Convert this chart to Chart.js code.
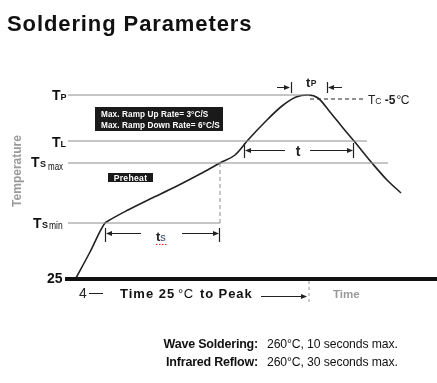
<!DOCTYPE html>
<html>
<head>
<meta charset="utf-8">
<script src="https://cdn.jsdelivr.net/npm/chart.js@4/dist/chart.umd.min.js"></script>
<style>
  body { margin: 0; background: #fff; }
  canvas { display: block; }
</style>
</head>
<body>
<canvas id="chart" width="437" height="383"></canvas>
<script>
// profile curve (time and temperature in schematic units)
const timeVals = [0, 14, 29, 32, 52, 74, 99, 124, 144, 159, 172, 189, 206, 220, 232, 242, 254, 267, 278, 296, 311, 325];
const tempVals = [0, 26, 55, 57, 68, 79, 91, 104, 115, 123, 138, 156, 172, 181, 183, 180, 166, 150, 137, 115, 98, 85];

// reference temperature levels
const levelNames = ["TP", "TL", "TS max", "TS min", "25"];
const levelVals = [183, 137, 115, 55, 0];
const levelEnds = [234, 291, 312, 144, 361];

const rampNotes = ["Max. Ramp Up Rate= 3°C/S", "Max. Ramp Down Rate= 6°C/S"];
const specNames = ["Wave Soldering:", "Infrared Reflow:"];
const specVals = ["260°C, 10 seconds max.", "260°C, 30 seconds max."];

const FONT = "'Liberation Sans', Arial, sans-serif";
const KNEE_LO = 2, KNEE_HI = 8; // Ts min / Ts max corners of the curve

const datasets = [];
// gray level lines
for (let i = 0; i < 4; i++) {
  datasets.push({
    data: [{ x: -8, y: levelVals[i] }, { x: levelEnds[i], y: levelVals[i] }],
    borderColor: "#8c8c8c", borderWidth: 1, pointRadius: 0
  });
}
// thick base line at 25
datasets.push({
  data: [{ x: -11, y: levelVals[4] - 1 }, { x: levelEnds[4], y: levelVals[4] - 1 }],
  borderColor: "#111", borderWidth: 4, pointRadius: 0
});
// dashed Tc -5 line
datasets.push({
  data: [{ x: 234, y: 179 }, { x: 288, y: 179 }],
  borderColor: "#222", borderWidth: 1, borderDash: [4, 3], pointRadius: 0
});
// dashed drop from Ts max knee
datasets.push({
  data: [{ x: timeVals[KNEE_HI], y: tempVals[KNEE_HI] }, { x: timeVals[KNEE_HI], y: levelVals[3] }],
  borderColor: "#8c8c8c", borderWidth: 1, borderDash: [4, 3], pointRadius: 0
});
// dashed mark at the peak time on the time axis
datasets.push({
  data: [{ x: 233, y: -3 }, { x: 233, y: -26 }],
  borderColor: "#9a9a9a", borderWidth: 1, borderDash: [3, 3], pointRadius: 0
});
// the profile itself
datasets.push({
  data: timeVals.map((t, i) => ({ x: t, y: tempVals[i] })),
  borderColor: "#222", borderWidth: 1.6, pointRadius: 0,
  cubicInterpolationMode: "monotone"
});

function txt(ctx, s, x, y, font, color, opts) {
  opts = opts || {};
  ctx.save();
  ctx.font = font;
  ctx.fillStyle = color;
  ctx.textBaseline = opts.base || "alphabetic";
  ctx.textAlign = opts.align || "left";
  if (opts.ls) ctx.letterSpacing = opts.ls + "px";
  const sx = opts.sx || 1;
  ctx.translate(x, y);
  ctx.scale(sx, 1);
  ctx.fillText(s, 0, 0);
  const w = ctx.measureText(s).width * sx;
  ctx.restore();
  return w;
}

function arrow(ctx, x1, x2, y) {
  const dir = x2 > x1 ? 1 : -1;
  ctx.save();
  ctx.strokeStyle = "#222";
  ctx.fillStyle = "#222";
  ctx.lineWidth = 1;
  ctx.beginPath();
  ctx.moveTo(x1, y + 0.5);
  ctx.lineTo(x2 - dir * 4, y + 0.5);
  ctx.stroke();
  ctx.beginPath();
  ctx.moveTo(x2, y + 0.5);
  ctx.lineTo(x2 - dir * 6, y - 2);
  ctx.lineTo(x2 - dir * 6, y + 3);
  ctx.closePath();
  ctx.fill();
  ctx.restore();
}

function tick(ctx, x, y1, y2) {
  ctx.save();
  ctx.strokeStyle = "#222";
  ctx.lineWidth = 1.2;
  ctx.beginPath();
  ctx.moveTo(Math.round(x) + 0.5, y1);
  ctx.lineTo(Math.round(x) + 0.5, y2);
  ctx.stroke();
  ctx.restore();
}

const labels = {
  id: "labels",
  afterDraw(chart) {
    const ctx = chart.ctx;
    const xs = chart.scales.x, ys = chart.scales.y;
    const X = v => xs.getPixelForValue(v);
    const Y = v => ys.getPixelForValue(v);

    // title
    txt(ctx, "Soldering Parameters", 7, 31, "bold 22px " + FONT, "#111", { ls: 0.9 });

    // level labels on the left
    const big = "bold 14px " + FONT, sub = "bold 9px " + FONT;
    let w;
    w = txt(ctx, "T", 52, Y(levelVals[0]) + 5, big, "#111");
    txt(ctx, "P", 52 + w, Y(levelVals[0]) + 5, sub, "#111");
    w = txt(ctx, "T", 52, Y(levelVals[1]) + 6, big, "#111");
    txt(ctx, "L", 52 + w, Y(levelVals[1]) + 6, sub, "#111");
    w = txt(ctx, "T", 31, Y(levelVals[2]) + 4, big, "#111");
    w += txt(ctx, "S", 31 + w + 0.5, Y(levelVals[2]) + 4, sub, "#111");
    txt(ctx, "max", 48, Y(levelVals[2]) + 7, "10px " + FONT, "#111", { sx: 0.8 });
    w = txt(ctx, "T", 33, Y(levelVals[3]) + 5, big, "#111");
    w += txt(ctx, "S", 33 + w + 0.5, Y(levelVals[3]) + 5, sub, "#111");
    txt(ctx, "min", 49, Y(levelVals[3]) + 6, "10px " + FONT, "#111", { sx: 0.85 });
    txt(ctx, levelNames[4], 47, Y(levelVals[4]) + 5, big, "#111");

    // axis titles
    ctx.save();
    ctx.translate(21, 171);
    ctx.rotate(-Math.PI / 2);
    txt(ctx, "Temperature", 0, 0, "bold 12px " + FONT, "#9a9a9a", { align: "center" });
    ctx.restore();
    txt(ctx, "Time", 333, 298, "bold 11.5px " + FONT, "#9a9a9a");

    // ramp rate box
    ctx.fillStyle = "#1a1a1a";
    ctx.fillRect(95, 107, 128, 24);
    txt(ctx, rampNotes[0], 101, 117, "bold 8.2px " + FONT, "#fff", { ls: 0.1 });
    txt(ctx, rampNotes[1], 101, 127.5, "bold 8.2px " + FONT, "#fff", { ls: 0.1 });

    // preheat box
    ctx.fillStyle = "#1a1a1a";
    ctx.fillRect(108, 173, 45, 9);
    txt(ctx, "Preheat", 130.5, 181, "bold 8.6px " + FONT, "#fff", { align: "center", ls: 0.3 });

    // ts dimension
    const tsY = 233;
    tick(ctx, X(timeVals[KNEE_LO]), 228, 242);
    tick(ctx, X(timeVals[KNEE_HI]) - 1, 228, 242);
    arrow(ctx, 141, X(timeVals[KNEE_LO]) + 1, tsY);
    arrow(ctx, 182, X(timeVals[KNEE_HI]) - 1, tsY);
    w = txt(ctx, "t", 156, 241, "bold 13px " + FONT, "#222");
    txt(ctx, "s", 156 + w, 241, "11px " + FONT, "#2a3f6a");
    ctx.save();
    ctx.strokeStyle = "#e02020";
    ctx.lineWidth = 1;
    ctx.setLineDash([1.5, 1.5]);
    ctx.beginPath();
    ctx.moveTo(156, 244.5);
    ctx.lineTo(168, 244.5);
    ctx.stroke();
    ctx.restore();

    // t dimension (time above TL)
    tick(ctx, 244, 143, 158);
    tick(ctx, 353, 143, 158);
    arrow(ctx, 285, 245, 150);
    arrow(ctx, 310, 353, 150);
    txt(ctx, "t", 298, 156, "bold 14px " + FONT, "#222", { align: "center" });

    // tp dimension
    tick(ctx, 291, 82, 93);
    tick(ctx, 327, 82, 93);
    arrow(ctx, 277, 290, 87);
    arrow(ctx, 342, 328, 87);
    w = txt(ctx, "t", 306, 87, "bold 13px " + FONT, "#222");
    txt(ctx, "P", 306 + w + 0.5, 86, "bold 8.5px " + FONT, "#222");

    // Tc -5 label
    w = txt(ctx, "T", 368, 104, "12px " + FONT, "#222");
    w += txt(ctx, "C", 368 + w, 104, "8.5px " + FONT, "#222");
    w += txt(ctx, " -5", 368 + w, 104, "bold 12px " + FONT, "#222");
    txt(ctx, "°C", 368 + w + 1, 104, "12px " + FONT, "#222", { ls: -0.5 });

    // time axis caption
    txt(ctx, "4", 79, 298, "14px " + FONT, "#222");
    ctx.fillStyle = "#222";
    ctx.fillRect(89, 293, 14, 1);
    txt(ctx, "Time 25", 120, 298, "bold 13px " + FONT, "#111", { ls: 1 });
    txt(ctx, "°C", 178, 298, "13px " + FONT, "#111", { ls: 0.5 });
    txt(ctx, "to Peak", 200, 298, "bold 13px " + FONT, "#111", { ls: 0.9 });
    arrow(ctx, 261, 307, 296);

    // notes
    specNames.forEach((n, i) => {
      const y = 348 + i * 18;
      txt(ctx, n, 258, y, "bold 12.5px " + FONT, "#111", { align: "right", ls: -0.2 });
      txt(ctx, specVals[i], 267, y, "12.2px " + FONT, "#111", { ls: -0.1 });
    });
  }
};

new Chart(document.getElementById("chart"), {
  type: "line",
  data: { datasets: datasets },
  options: {
    responsive: false,
    animation: false,
    layout: { padding: 0 },
    plugins: { legend: { display: false }, tooltip: { enabled: false } },
    scales: {
      x: { type: "linear", min: -76, max: 361, display: false },
      y: { type: "linear", min: -105, max: 278, display: false }
    }
  },
  plugins: [labels]
});
</script>
</body>
</html>
